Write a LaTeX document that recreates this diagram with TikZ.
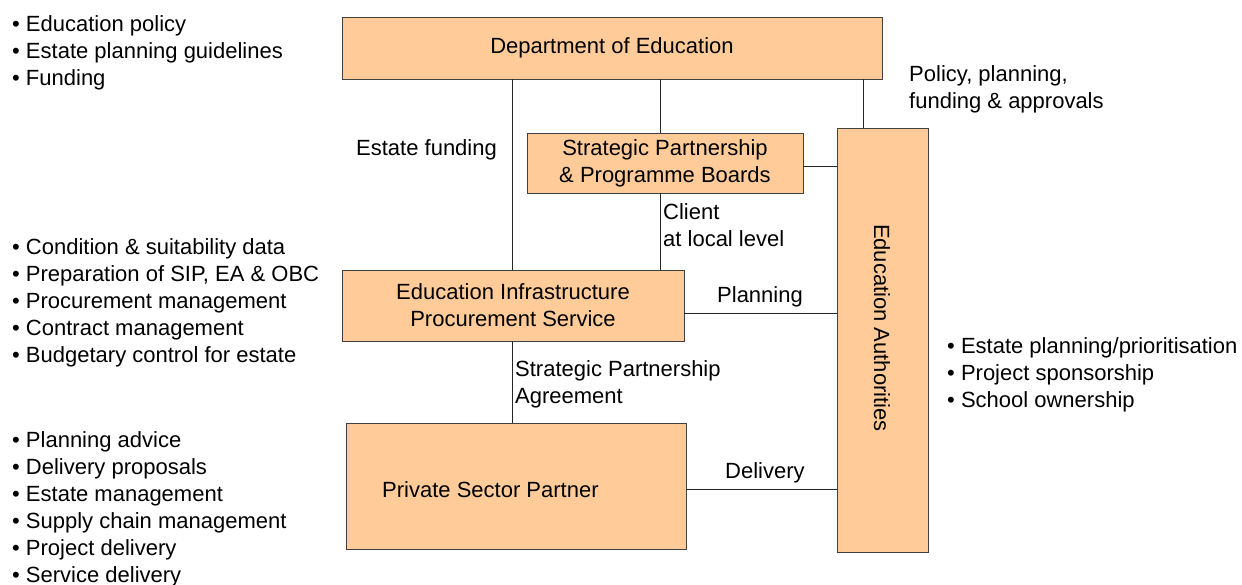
\documentclass[tikz,border=0pt]{standalone}
\usepackage{fontspec}
\setmainfont{Liberation Sans}
\definecolor{boxfill}{HTML}{FFCC99}
\definecolor{boxline}{HTML}{404040}
\begin{document}
\begin{tikzpicture}[x=1pt,y=-1pt,
  every node/.style={font=\fontsize{22}{27}\selectfont, inner sep=0pt, text=black},
  orgbox/.style={draw=boxline, fill=boxfill, line width=0.9pt, align=center},
  link/.style={draw=black!85, line width=0.9pt},
  lbl/.style={anchor=north west, align=left}]
\useasboundingbox (0,0) rectangle (1242,585);

% organisations
\node[orgbox, minimum width=540pt, minimum height=62pt] (doe) at (612,48) {Department of Education};
\node[orgbox, minimum width=276pt, minimum height=60pt] (sp) at (665,163) {Strategic Partnership\\\& Programme Boards};
\node[orgbox, minimum width=91pt, minimum height=424pt] (ea) at (882.5,340) {};
\node[rotate=-90] (eatext) at (882,328) {Education Authorities};
\node[orgbox, minimum width=342pt, minimum height=71pt] (eips) at (513,305.5) {Education Infrastructure\\Procurement Service};
\node[orgbox, minimum width=340pt, minimum height=126pt] (psp) at (516,486) {};
\node[anchor=base west] (psptext) at (382,497) {Private Sector Partner};

% vertical links
\draw[link] (doe.south -| 512,0) -- (eips.north -| 512,0);
\draw[link] (doe.south -| 660,0) -- (sp.north -| 660,0);
\draw[link] (sp.south -| 660,0) -- (eips.north -| 660,0);
\draw[link] (doe.south -| 863,0) -- (ea.north -| 863,0);
\draw[link] (eips.south -| 512,0) -- (psp.north -| 512,0);

% horizontal links to the authorities
\draw[link] (sp.east |- 0,166) -- (ea.west |- 0,166);
\draw[link] (eips.east |- 0,313) -- (ea.west |- 0,313);
\draw[link] (psp.east |- 0,489) -- (ea.west |- 0,489);

% link labels
\node[anchor=base west] (lfund) at (356,156) {Estate funding};
\node[lbl] (lpol) at (909,65) {Policy, planning,\\funding \& approvals};
\node[lbl] (lclient) at (663,203) {Client\\at local level};
\node[anchor=base west] (lplan) at (717,302) {Planning};
\node[lbl] (lspa) at (515,360) {Strategic Partnership\\Agreement};
\node[anchor=base west] (ldel) at (725,478) {Delivery};

% role lists
\node[lbl] (rdoe) at (12,15) {• Education policy\\• Estate planning guidelines\\• Funding};
\node[lbl] (reips) at (12,238) {• Condition \& suitability data\\• Preparation of SIP, EA \& OBC\\• Procurement management\\• Contract management\\• Budgetary control for estate};
\node[lbl] (rpsp) at (12,431) {• Planning advice\\• Delivery proposals\\• Estate management\\• Supply chain management\\• Project delivery\\• Service delivery};
\node[lbl] (rea) at (947,337) {• Estate planning/prioritisation\\• Project sponsorship\\• School ownership};
\end{tikzpicture}
\end{document}
